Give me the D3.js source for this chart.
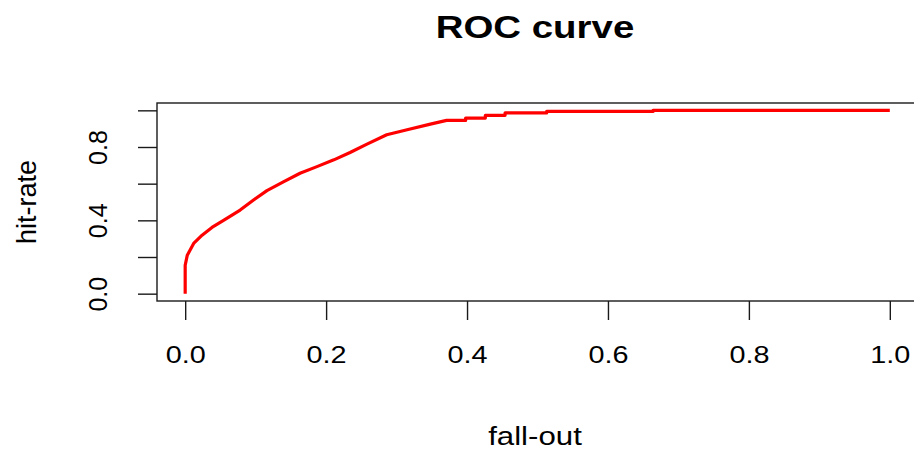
<!DOCTYPE html>
<html>
<head>
<meta charset="utf-8">
<script src="https://cdn.jsdelivr.net/npm/d3@7"></script>
<style>
  body { margin: 0; background: #fff; }
  svg { display: block; font-family: "Liberation Sans", Arial, sans-serif; }
</style>
</head>
<body>
<svg id="chart" width="914" height="452"></svg>
<script>
// ROC points (false positive rate vs true positive rate)
const fallOut = [0, 0, 0.003, 0.012, 0.024, 0.038, 0.055, 0.078, 0.097, 0.116, 0.140, 0.163,
  0.187, 0.211, 0.234, 0.258, 0.286, 0.315, 0.348, 0.371, 0.398, 0.398, 0.426, 0.426, 0.454,
  0.454, 0.513, 0.513, 0.664, 0.664, 1.0];
const hitRate = [0, 0.155, 0.21, 0.274, 0.319, 0.361, 0.401, 0.456, 0.511, 0.562, 0.611, 0.657,
  0.693, 0.730, 0.770, 0.816, 0.867, 0.894, 0.925, 0.945, 0.945, 0.958, 0.958, 0.973, 0.973,
  0.986, 0.986, 0.994, 0.994, 1.0, 1.0];

const xTicks = [0, 0.2, 0.4, 0.6, 0.8, 1.0];
const yTicks = [0, 0.2, 0.4, 0.6, 0.8, 1.0];
const yLabelTicks = [0, 0.4, 0.8]; // R drops the labels that would overlap

const svg = d3.select('#chart');
const margin = { left: 157, top: 103, right: -4, bottom: 151 };
const width = +svg.attr('width');
const height = +svg.attr('height');
const innerWidth = width - margin.left - margin.right;
const innerHeight = height - margin.top - margin.bottom;

// R style 4% padding around the data range
const xScale = d3.scaleLinear()
  .domain([-0.04, 1.04])
  .range([0, innerWidth]);
const yScale = d3.scaleLinear()
  .domain([-0.04, 1.04])
  .range([innerHeight, 0]);

const g = svg.append('g')
  .attr('transform', `translate(${margin.left},${margin.top})`);

// the curve
const line = d3.line()
  .x(d => xScale(d[0]))
  .y(d => yScale(d[1]));

g.append('path')
  .datum(d3.zip(fallOut, hitRate))
  .attr('d', line)
  .attr('fill', 'none')
  .attr('stroke', '#ff0000')
  .attr('stroke-width', 3.2)
  .attr('stroke-linejoin', 'round');

// box
g.append('rect')
  .attr('width', innerWidth)
  .attr('height', innerHeight)
  .attr('fill', 'none')
  .attr('stroke', '#1a1a1a')
  .attr('stroke-width', 1.4);

// the text in the picture looks stretched sideways
const stretch = sel => sel.each(function () {
  const w = this.getComputedTextLength();
  d3.select(this).attr('textLength', w * 1.2).attr('lengthAdjust', 'spacingAndGlyphs');
});

// x axis
const xAxisG = g.append('g')
  .attr('transform', `translate(0,${innerHeight})`)
  .call(d3.axisBottom(xScale).tickValues(xTicks).tickSize(19).tickFormat(d3.format('.1f')));
xAxisG.select('.domain').remove();
xAxisG.selectAll('line').attr('stroke', '#1a1a1a').attr('stroke-width', 1.4);
xAxisG.selectAll('text')
  .attr('y', 62).attr('dy', 0)
  .attr('fill', '#000')
  .style('font-size', '24px')
  .call(stretch);

// y axis: ticks everywhere, labels on some
const yAxisG = g.append('g')
  .call(d3.axisLeft(yScale).tickValues(yTicks).tickSize(19));
yAxisG.select('.domain').remove();
yAxisG.selectAll('line').attr('stroke', '#1a1a1a').attr('stroke-width', 1.4);
yAxisG.selectAll('text').remove();

const yLabelG = g.append('g')
  .call(d3.axisLeft(yScale).tickValues(yLabelTicks).tickSize(0).tickFormat(d3.format('.1f')));
yLabelG.select('.domain').remove();
yLabelG.selectAll('text')
  .attr('x', 0).attr('dy', 0)
  .attr('text-anchor', 'middle')
  .attr('transform', 'translate(-50,0) rotate(-90)')
  .attr('fill', '#000')
  .style('font-size', '25px');

// titles
svg.append('text')
  .attr('x', 535).attr('y', 38)
  .attr('text-anchor', 'middle')
  .style('font-size', '32px')
  .style('font-weight', 'bold')
  .text('ROC curve')
  .call(stretch);

svg.append('text')
  .attr('x', 535).attr('y', 445)
  .attr('text-anchor', 'middle')
  .style('font-size', '26px')
  .text('fall-out')
  .call(stretch);

svg.append('text')
  .attr('transform', 'translate(36,202) rotate(-90)')
  .attr('text-anchor', 'middle')
  .style('font-size', '27px')
  .text('hit-rate');
</script>
</body>
</html>
